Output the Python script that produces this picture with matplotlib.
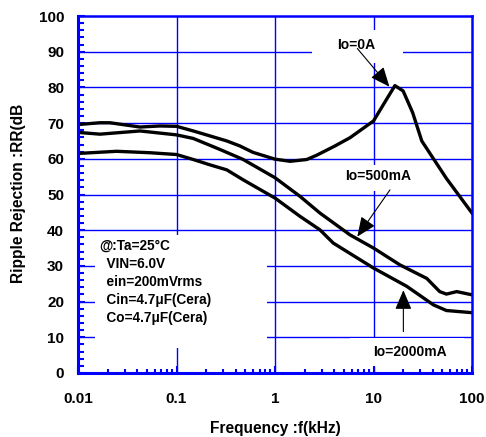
import numpy as np
import matplotlib
matplotlib.use("Agg")
import matplotlib.pyplot as plt
from matplotlib.patches import Rectangle

plt.rcParams['font.family'] = ['Liberation Sans', 'DejaVu Sans']
plt.rcParams['font.weight'] = 'bold'

# Io=0A
f_0a = [0.01, 0.0167, 0.0211, 0.0426, 0.0681, 0.1, 0.148, 0.324, 0.44, 0.598,
        1.0, 1.42, 2.1, 2.65, 4.0, 5.77, 10, 13.6, 16.5, 20, 25, 30.9, 55, 100]
rr_0a = [69.6, 70.1, 70.1, 68.9, 69.2, 69.1, 67.8, 65.0, 63.6, 61.8,
         59.9, 59.3, 59.8, 61.0, 63.5, 65.9, 70.6, 76.7, 80.5, 79.0, 72.9, 65.0, 54.5, 44.8]

# Io=500mA
f_500 = [0.01, 0.0167, 0.0426, 0.1, 0.148, 0.277, 0.476, 1.0, 1.79, 2.86,
         5.77, 10, 18.5, 34.7, 47, 55, 70, 100]
rr_500 = [67.4, 66.9, 67.8, 66.7, 65.7, 62.6, 59.8, 54.7, 49.5, 44.8,
          38.7, 35.0, 30.3, 26.5, 22.8, 22.1, 22.8, 21.9]

# Io=2000mA
f_2000 = [0.01, 0.0247, 0.0538, 0.1, 0.148, 0.219, 0.324, 0.476, 1.0, 1.79,
          2.86, 3.9, 10, 21.7, 40.5, 55, 100]
rr_2000 = [61.5, 62.1, 61.7, 61.2, 59.8, 58.3, 56.9, 54.1, 49.0, 43.9,
           40.1, 36.4, 29.4, 24.3, 19.1, 17.5, 16.9]

x_ticks = [0.01, 0.1, 1, 10, 100]
x_labels = ["0.01", "0.1", "1", "10", "100"]
y_ticks = list(range(0, 101, 10))

conditions = "@:Ta=25°C\n  VIN=6.0V\n  ein=200mVrms\n  Cin=4.7μF(Cera)\n  Co=4.7μF(Cera)"

blue = "#0000FF"

fig = plt.figure(figsize=(4.86, 4.37), dpi=100)
ax = fig.add_axes([78/486, 1-373/437, 394/486, 357/437])

ax.set_xscale("log")
ax.set_xlim(0.01, 100)
ax.set_ylim(0, 100)

# grid drawn by hand so the label boxes can cover it
for xv in x_ticks[1:-1]:
    ax.axvline(xv, color=blue, lw=1.0, zorder=1)
for yv in y_ticks[1:-1]:
    ax.axhline(yv, color=blue, lw=1.0, zorder=1)

# white boxes behind the texts (axes fraction)
for (x0, y0, w, h) in [(0.043, 0.070, 0.437, 0.317),
                       (0.594, 0.868, 0.231, 0.093),
                       (0.655, 0.510, 0.210, 0.073),
                       (0.690, 0.017, 0.290, 0.081)]:
    ax.add_patch(Rectangle((x0, y0), w, h, transform=ax.transAxes,
                           facecolor="white", edgecolor="none", zorder=1.5))

lw = 2.4
ax.plot(f_0a, rr_0a, color="black", lw=lw, zorder=3, solid_joinstyle="round")
ax.plot(f_500, rr_500, color="black", lw=lw, zorder=3, solid_joinstyle="round")
ax.plot(f_2000, rr_2000, color="black", lw=lw, zorder=3, solid_joinstyle="round")

for sp in ax.spines.values():
    sp.set_color(blue)
    sp.set_linewidth(2.2)
    sp.set_zorder(4)
ax.spines["top"].set_linewidth(1.8)
ax.spines["right"].set_linewidth(1.8)

ax.set_xticks(x_ticks)
ax.set_xticklabels(x_labels)
ax.xaxis.set_minor_locator(matplotlib.ticker.LogLocator(base=10, subs=np.arange(2, 10)))
ax.xaxis.set_minor_formatter(matplotlib.ticker.NullFormatter())
ax.set_yticks(y_ticks)
ax.yaxis.set_minor_locator(matplotlib.ticker.MultipleLocator(2))

ax.tick_params(axis="both", which="both", direction="in", colors=blue, labelcolor="black")
ax.tick_params(axis="x", which="major", length=5, width=1.5, pad=14, labelsize=11)
ax.tick_params(axis="x", which="minor", length=3, width=1.5)
ax.tick_params(axis="y", which="major", length=5, width=1.5, pad=10, labelsize=11)
ax.tick_params(axis="y", which="minor", length=4, width=1.5)
for lab in ax.get_xticklabels() + ax.get_yticklabels():
    lab.set_fontweight("bold")

fig.text(19/486, 1-193/437, "Ripple Rejection :RR(dB", rotation=90,
         ha="center", va="center", fontsize=11.2, fontweight="bold")
fig.text(275/486, 1-428/437, "Frequency :f(kHz)", ha="center", va="center",
         fontsize=11.2, fontweight="bold")

ax.text(0.0163, 37.6, conditions, ha="left", va="top", fontsize=9.8,
        fontweight="bold", linespacing=1.38, zorder=5)

ax.text(6.7, 91.9, "Io=0A", ha="center", va="center", fontsize=10, fontweight="bold", zorder=5)
ax.text(11.2, 55.2, "Io=500mA", ha="center", va="center", fontsize=10, fontweight="bold", zorder=5)
ax.text(23.5, 5.8, "Io=2000mA", ha="center", va="center", fontsize=10, fontweight="bold", zorder=5)

arrow = dict(arrowstyle="-|>,head_length=0.75,head_width=0.32", color="black",
             lw=0.8, mutation_scale=16, shrinkA=0, shrinkB=0)
ax.annotate("", xy=(14.5, 80.2), xytext=(6.85, 90.9), arrowprops=arrow, zorder=5)
ax.annotate("", xy=(6.85, 38.2), xytext=(14.7, 51.3), arrowprops=arrow, zorder=5)
ax.annotate("", xy=(20.1, 23.2), xytext=(20.1, 11.6), arrowprops=arrow, zorder=5)

fig.savefig("out.png", dpi=100)
